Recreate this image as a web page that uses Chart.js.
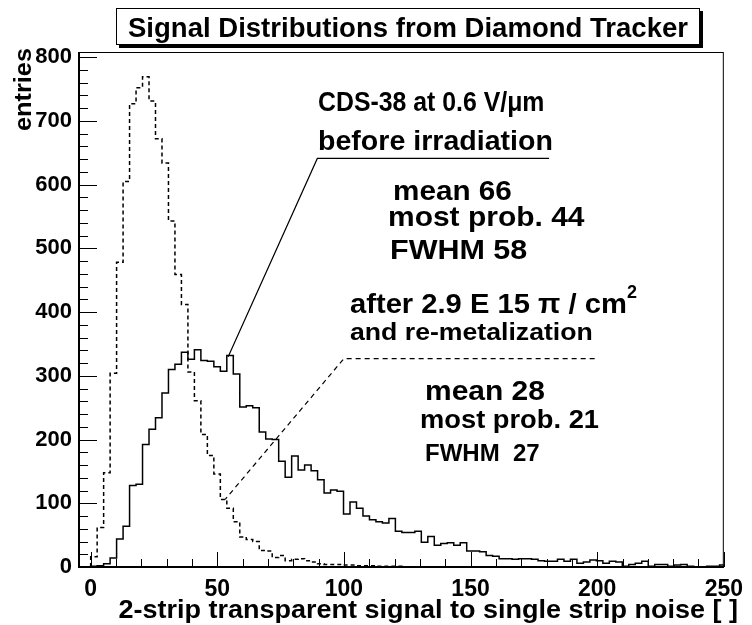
<!DOCTYPE html>
<html>
<head>
<title>Signal Distributions from Diamond Tracker</title>
<script src="https://cdn.jsdelivr.net/npm/chart.js"></script>
<style>
  body { margin: 0; background: #fff; }
  #wrap { width: 752px; height: 625px; }
</style>
</head>
<body>
<div id="wrap"><canvas id="signalChart" width="752" height="625"></canvas></div>
<script>
// histogram bin width (signal/noise units), bins start at 0
const binWidth = 2.56;

// CDS-38 before irradiation (solid)
const beforeCounts = [
  1, 2, 5, 14, 44, 64, 128, 130, 192, 216,
  234, 273, 310, 318, 337, 326, 341, 324, 323, 314,
  307, 332, 303, 251, 253, 250, 212, 201, 200, 166,
  141, 174, 152, 160, 151, 137, 116, 121, 119, 83,
  102, 92, 80, 74, 71, 69, 76, 56, 54, 54,
  56, 39, 48, 34, 37, 38, 34, 38, 25, 25,
  24, 18, 17, 13, 13, 12, 13, 13, 12, 10,
  9, 9, 12, 9, 12, 6, 8, 11, 10, 6,
  9, 8, 1, 4, 6, 9, 1, 4, 4, 1,
  3, 4, 1, 0, 0, 1, 1, 3
];

// after 2.9E15 pi/cm2 and re-metalization (dashed)
const afterCounts = [
  16, 62, 148, 304, 478, 605, 727, 752, 769, 731,
  672, 634, 543, 459, 412, 306, 261, 208, 175, 146,
  106, 92, 71, 47, 43, 40, 26, 25, 15, 18,
  10, 12, 13, 10, 8, 5, 4, 4, 4, 3,
  3, 2, 2, 2, 1, 1, 1, 1, 0, 0
];

// leader lines from the labels to the curves (data units)
const beforeLeader = [{x: 181, y: 641}, {x: 89.5, y: 641}, {x: 54.3, y: 330}];
const afterLeader = [{x: 199, y: 327}, {x: 100, y: 327}, {x: 53.1, y: 106}];

const xMin = -5, xMax = 250, yMin = 0, yMax = 808;

function histPoints(counts) {
  let pts = [{x: 0, y: 0}];
  counts.forEach((c, i) => pts.push({x: i * binWidth, y: c}));
  pts.push({x: counts.length * binWidth, y: counts[counts.length - 1]});
  pts.push({x: counts.length * binWidth, y: 0});
  return pts;
}

const FONT = '"Liberation Sans", Arial, Helvetica, sans-serif';

// bold text, sx stretches it sideways like the original print
function txt(ctx, s, x, y, size, align, sx) {
  ctx.save();
  ctx.font = 'bold ' + size + 'px ' + FONT;
  ctx.textAlign = align || 'left';
  ctx.textBaseline = 'alphabetic';
  ctx.translate(x, y);
  ctx.scale(sx || 1, 1);
  ctx.fillText(s, 0, 0);
  ctx.restore();
}

// frame, inward ticks, titles and the text labels
const decorations = {
  id: 'decorations',
  afterDraw(chart) {
    const ctx = chart.ctx;
    const a = chart.chartArea;
    const xs = chart.scales.x, ys = chart.scales.y;
    ctx.save();
    ctx.strokeStyle = '#000';
    ctx.fillStyle = '#000';

    // frame
    ctx.lineWidth = 1;
    ctx.strokeRect(a.left + 0.5, a.top + 0.5, a.right - a.left - 1, a.bottom - a.top);
    ctx.lineWidth = 2;
    ctx.beginPath();
    ctx.moveTo(a.left + 1, a.top);
    ctx.lineTo(a.left + 1, a.bottom);
    ctx.lineTo(a.right, a.bottom);
    ctx.stroke();

    // tick marks
    ctx.lineWidth = 1;
    ctx.beginPath();
    xs.ticks.forEach(t => {
      if (t.value < 0 || t.value % 10 !== 0) return;
      const px = Math.round(xs.getPixelForValue(t.value)) + 0.5;
      const len = t.value % 50 === 0 ? 15 : 8;
      ctx.moveTo(px, a.bottom);
      ctx.lineTo(px, a.bottom - len);
    });
    ys.ticks.forEach(t => {
      if (t.value % 20 !== 0) return;
      const py = Math.round(ys.getPixelForValue(t.value)) + 0.5;
      const len = t.value % 100 === 0 ? 19 : 10;
      ctx.moveTo(a.left, py);
      ctx.lineTo(a.left + len, py);
    });
    ctx.stroke();

    // title box with shadow
    ctx.fillStyle = '#000';
    ctx.fillRect(119, 11, 584, 37);
    ctx.fillStyle = '#fff';
    ctx.fillRect(116, 8, 584, 37);
    ctx.lineWidth = 1;
    ctx.strokeRect(116.5, 8.5, 583, 36);
    ctx.fillStyle = '#000';
    txt(ctx, 'Signal Distributions from Diamond Tracker', 408, 37, 27, 'center', 1.02);

    // axis titles
    txt(ctx, '2-strip transparent signal to single strip noise [ ]', 738, 618, 25, 'right', 1.08);
    ctx.save();
    ctx.translate(31, 48);
    ctx.rotate(-Math.PI / 2);
    txt(ctx, 'entries', 0, 0, 23, 'right', 1.1);
    ctx.restore();

    // labels
    txt(ctx, 'CDS-38 at 0.6 V/\u03bcm', 318, 111, 27, 'left', 0.92);
    txt(ctx, 'before irradiation', 318, 150, 28, 'left', 1.02);
    txt(ctx, 'mean 66', 393, 200, 28, 'left', 1.06);
    txt(ctx, 'most prob. 44', 388, 226, 27, 'left', 1.11);
    txt(ctx, 'FWHM 58', 390, 259, 27, 'left', 1.13);
    txt(ctx, 'after 2.9 E 15 \u03c0 / cm', 350, 313, 27, 'left', 1.08);
    txt(ctx, '2', 627, 298, 18);
    txt(ctx, 'and re-metalization', 350, 340, 24, 'left', 1.11);
    txt(ctx, 'mean 28', 425, 400, 28, 'left', 1.07);
    txt(ctx, 'most prob. 21', 420, 428, 26, 'left', 1.05);
    txt(ctx, 'FWHM  27', 425, 461, 24);
    ctx.restore();
  }
};

const ctx = document.getElementById('signalChart').getContext('2d');
const chart = new Chart(ctx, {
  type: 'line',
  data: {
    datasets: [
      {
        label: 'before irradiation',
        data: histPoints(beforeCounts),
        stepped: 'before',
        borderColor: '#000',
        borderWidth: 1.5,
        pointRadius: 0,
        fill: false
      },
      {
        label: 'after 2.9E15',
        data: histPoints(afterCounts),
        stepped: 'before',
        borderColor: '#000',
        borderWidth: 1.5,
        borderDash: [4, 3],
        pointRadius: 0,
        fill: false
      },
      {
        label: 'leader before',
        data: beforeLeader,
        borderColor: '#000',
        borderWidth: 1.2,
        pointRadius: 0,
        tension: 0,
        fill: false
      },
      {
        label: 'leader after',
        data: afterLeader,
        borderColor: '#000',
        borderWidth: 1.2,
        borderDash: [5, 4],
        pointRadius: 0,
        tension: 0,
        fill: false
      }
    ]
  },
  options: {
    responsive: false,
    animation: false,
    events: [],
    layout: { padding: { top: 52, right: 21, left: 0, bottom: 0 } },
    plugins: { legend: { display: false }, tooltip: { enabled: false }, title: { display: false } },
    scales: {
      x: {
        type: 'linear',
        min: xMin,
        max: xMax,
        grid: { display: false, drawTicks: false },
        border: { display: false },
        afterFit: s => { s.height = 58; },
        ticks: {
          stepSize: 10,
          includeBounds: false,
          autoSkip: false,
          maxRotation: 0,
          padding: 9,
          color: '#000',
          font: { family: FONT, size: 23, weight: 'bold' },
          callback: v => (v % 50 === 0 ? String(v) : '')
        }
      },
      y: {
        min: yMin,
        max: yMax,
        grid: { display: false, drawTicks: false },
        border: { display: false },
        afterFit: s => { s.width = 78; },
        ticks: {
          stepSize: 20,
          includeBounds: false,
          autoSkip: false,
          padding: 6,
          color: '#000',
          font: { family: FONT, size: 22, weight: 'bold' },
          callback: v => (v % 100 === 0 ? String(v) : '')
        }
      }
    }
  },
  plugins: [decorations]
});
</script>
</body>
</html>
